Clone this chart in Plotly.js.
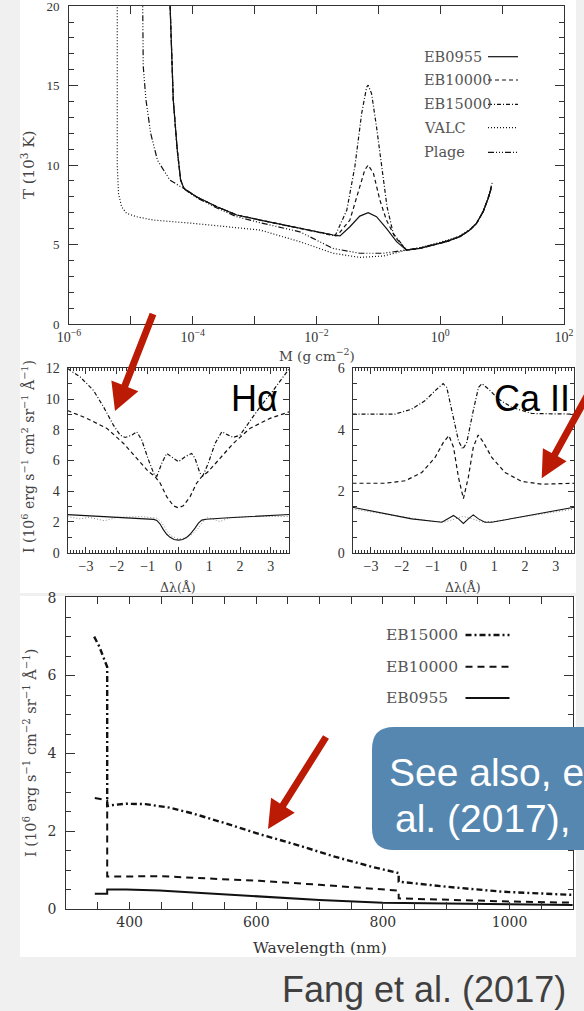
<!DOCTYPE html>
<html><head><meta charset="utf-8">
<script src="https://cdn.plot.ly/plotly-3.0.1.min.js"></script>
<style>html,body{margin:0;padding:0;background:#f0f0f0;}#chart{width:584px;height:1011px;}</style>
</head><body><div id="chart"></div>
<script>
// ---------- Top panel: log10 column mass M (g cm^-2) vs T (10^3 K) ----------
const top_eb0955_logM = [-4.37,-4.315,-4.25,-4.196,-4.142,-3.94,-3.61,-3.29,-2.91,-2.27,-1.73,-1.62,-1.46,-1.30,-1.165,-1.03,-0.87,-0.706,-0.545,-0.33,-0.115,0.10,0.317,0.478,0.586,0.693,0.774,0.829];
const top_eb0955_T    = [20.5,14.1,10.94,9.06,8.53,8.0,7.38,6.86,6.54,6.02,5.6,5.54,6.12,6.79,7.0,6.75,6.02,5.18,4.65,4.76,4.97,5.18,5.49,5.91,6.33,7.07,7.9,8.64];
const top_eb10000_logM = [-4.37,-4.315,-4.25,-4.196,-4.142,-3.94,-3.61,-3.29,-2.91,-2.27,-1.73,-1.67,-1.46,-1.326,-1.22,-1.165,-1.08,-0.976,-0.87,-0.733,-0.545,-0.33,-0.115,0.10,0.317,0.478,0.586,0.693,0.774,0.829];
const top_eb10000_T    = [20.5,14.1,10.94,9.06,8.53,8.0,7.38,6.86,6.54,6.02,5.6,5.55,6.54,8.22,9.69,10.0,9.48,7.8,6.54,5.49,4.65,4.76,4.97,5.18,5.49,5.91,6.33,7.07,7.9,8.6];
const top_eb15000_logM = [-4.37,-4.315,-4.25,-4.196,-4.142,-3.94,-3.61,-3.29,-2.91,-2.27,-1.73,-1.70,-1.51,-1.38,-1.27,-1.19,-1.165,-1.11,-1.03,-0.95,-0.86,-0.76,-0.545,-0.33,-0.115,0.10,0.317,0.478,0.586,0.693,0.774,0.84];
const top_eb15000_T    = [20.5,14.1,10.94,9.06,8.53,8.0,7.38,6.86,6.54,6.02,5.6,5.54,7.17,9.9,13.25,14.9,15.03,14.5,12.4,9.9,7.38,5.7,4.65,4.76,4.97,5.18,5.49,5.91,6.33,7.07,7.95,8.9];
const top_valc_logM = [-5.22,-5.22,-5.20,-5.15,-5.07,-4.91,-4.64,-3.99,-2.91,-2.27,-1.73,-1.30,-0.92,-0.545,-0.33,-0.115,0.10,0.317,0.478,0.586,0.693,0.774,0.829];
const top_valc_T    = [20.5,10,8.2,7.38,6.96,6.75,6.54,6.33,5.91,5.18,4.45,4.19,4.28,4.65,4.80,5.02,5.25,5.55,5.95,6.35,7.07,7.9,8.64];
const top_plage_logM = [-4.81,-4.80,-4.756,-4.68,-4.57,-4.37,-4.15,-3.94,-3.61,-3.29,-2.91,-2.27,-1.73,-1.30,-0.92,-0.545,-0.33,-0.115,0.10,0.317,0.478,0.586,0.693,0.774,0.829];
const top_plage_T    = [20.5,16.2,14.1,12.0,10.3,9.06,8.53,7.95,7.3,6.75,6.37,5.8,4.75,4.45,4.45,4.65,4.78,5.0,5.22,5.52,5.93,6.33,7.07,7.9,8.6];
const top_xticks = [-6,-4,-2,0,2];
const top_xticktext = ['10<sup>−6</sup>','10<sup>−4</sup>','10<sup>−2</sup>','10<sup>0</sup>','10<sup>2</sup>'];
const top_legend = ['EB0955','EB10000','EB15000','VALC','Plage'];

// ---------- H-alpha profiles: Δλ (Å) vs I ----------
const ha_eb15000_x = [-3.6,-3.19,-2.76,-2.43,-2.11,-1.89,-1.73,-1.51,-1.35,-1.19,-0.97,-0.78,-0.70,-0.54,-0.38,-0.16,0,0.22,0.43,0.54,0.70,0.79,0.97,1.19,1.41,1.62,1.78,2.0,2.32,2.65,3.08,3.6];
const ha_eb15000_y = [11.98,11.44,10.57,9.49,8.30,7.65,7.50,7.65,7.87,7.33,6.03,5.06,4.97,5.82,6.46,6.14,5.92,6.25,6.46,6.14,5.17,4.99,5.82,7.11,7.87,7.65,7.50,7.65,8.52,9.49,10.57,11.98];
const ha_eb10000_x = [-3.6,-2.97,-2.32,-1.78,-1.35,-0.97,-0.76,-0.59,-0.38,-0.16,0,0.16,0.38,0.59,0.76,0.97,1.35,1.78,2.32,2.97,3.6];
const ha_eb10000_y = [9.25,8.74,8.09,7.11,6.14,5.28,4.95,4.52,3.65,3.05,2.92,3.05,3.65,4.52,4.95,5.28,6.14,7.11,8.09,8.74,9.17];
const ha_eb0955_x = [-3.6,-2.5,-1.5,-0.8,-0.7,-0.6,-0.49,-0.38,-0.27,-0.14,0,0.14,0.27,0.38,0.54,0.65,0.76,0.9,1.5,2.5,3.6];
const ha_eb0955_y = [2.48,2.36,2.25,2.17,2.1,1.88,1.5,1.2,1.0,0.86,0.82,0.86,1.0,1.2,1.6,1.92,2.12,2.18,2.26,2.37,2.49];
const ha_valc_x = [-3.6,-3.2,-2.9,-2.4,-2.0,-1.2,-0.7,-0.55,-0.4,-0.25,0,0.25,0.45,0.65,0.8,0.95,1.1,1.35,1.7,2.5,3.6];
const ha_valc_y = [2.36,2.2,2.3,2.08,2.3,2.35,2.25,2.0,1.5,1.1,0.9,0.95,1.2,1.6,2.03,2.3,2.2,2.03,2.3,2.35,2.36];

// ---------- Ca II profiles ----------
const ca_eb15000_x = [-3.6,-2.22,-1.68,-1.24,-0.92,-0.66,-0.54,-0.38,-0.16,-0.02,0.11,0.32,0.49,0.60,0.81,1.14,1.57,2.22,3.6];
const ca_eb15000_y = [4.51,4.51,4.67,4.95,5.27,5.50,5.38,4.62,3.64,3.37,3.59,4.62,5.38,5.50,5.33,5.0,4.73,4.53,4.51];
const ca_eb10000_x = [-3.6,-2.54,-1.89,-1.35,-0.92,-0.65,-0.47,-0.32,-0.16,0,0.16,0.32,0.48,0.65,0.92,1.35,1.89,2.54,3.6];
const ca_eb10000_y = [2.26,2.26,2.34,2.61,3.10,3.59,3.81,3.43,2.45,1.76,2.45,3.43,3.83,3.59,3.10,2.61,2.32,2.23,2.26];
const ca_eb0955_x = [-3.6,-2.76,-1.68,-0.70,-0.49,-0.32,-0.16,0,0.16,0.32,0.49,0.70,0.92,1.78,2.65,3.6];
const ca_eb0955_y = [1.48,1.31,1.10,0.99,1.10,1.21,1.10,0.95,1.10,1.23,1.10,0.99,0.99,1.15,1.31,1.48];
const ca_valc_x = [-3.6,-2,-1,-0.6,-0.3,0,0.3,0.6,1,2,3.6];
const ca_valc_y = [1.42,1.18,1.02,1.0,1.1,1.18,1.1,1.0,1.02,1.18,1.42];

// ---------- Bottom: continuum, wavelength (nm) vs I ----------
const bot_eb15000_wl = [344,352,358,364.6,364.6,375,395,425,463,500,553,605,665,724,783,825,825,900,990,1100];
const bot_eb15000_I  = [7.0,6.75,6.5,6.22,2.65,2.68,2.71,2.70,2.61,2.46,2.20,1.93,1.65,1.35,1.09,0.93,0.71,0.58,0.45,0.37];
const bot_eb10000_wl = [345,364.6,364.6,375,450,526,605,700,783,825,825,900,1000,1100];
const bot_eb10000_I  = [2.86,2.80,0.84,0.84,0.85,0.79,0.73,0.63,0.54,0.48,0.28,0.24,0.20,0.17];
const bot_eb0955_wl = [345,364.6,364.6,395,447,500,553,605,700,800,900,1000,1100];
const bot_eb0955_I  = [0.40,0.40,0.51,0.51,0.48,0.43,0.37,0.32,0.24,0.17,0.15,0.13,0.11];
const bot_legend = ['EB15000','EB10000','EB0955'];

// ---------- layout helpers (pixel -> paper) ----------
const W=584,H=1011;
const X=v=>v/W, Y=v=>1-v/H;
const SERIF='Liberation Serif, Times New Roman, serif';
const WSERIF='DejaVu Serif, serif';
const SANS='Liberation Sans, Arial, Helvetica, sans-serif';
const DASH='4px,3px', DASHDOT='4px,2px,1px,2px', DOT='1px,2px', DASH3='6px,2px,1px,2px,1px,2px,1px,2px';

function axis(o){
  return Object.assign({showline:true,linecolor:'#333',linewidth:1,mirror:'ticks',ticks:'inside',
    tickcolor:'#333',tickwidth:1,showgrid:false,zeroline:false,fixedrange:true,ticklabeloverflow:'allow',
    tickfont:{family:SERIF,size:13,color:'#333'}},o);
}
function ln(x,y,xa,ya,dash,w,c){
  return {x:x,y:y,xaxis:xa,yaxis:ya,type:'scatter',mode:'lines',hoverinfo:'skip',showlegend:false,
    line:{color:c||'#111',width:w||1.2,dash:dash||'solid'}};
}
function ann(text,x,y,o){
  return Object.assign({text:text,x:X(x),y:Y(y),xref:'paper',yref:'paper',showarrow:false,
    xanchor:'center',yanchor:'middle',font:{family:WSERIF,size:13,color:'#444'}},o||{});
}
function arrowPath(x0,y0,x1,y1,sw,hl,hw){
  const dx=x1-x0,dy=y1-y0,L=Math.hypot(dx,dy),ux=dx/L,uy=dy/L,nx=-uy,ny=ux;
  const bx=x1-ux*hl,by=y1-uy*hl;
  const p=[[x0+nx*sw/2,y0+ny*sw/2],[bx+nx*sw/2,by+ny*sw/2],[bx+nx*hw/2,by+ny*hw/2],[x1,y1],
           [bx-nx*hw/2,by-ny*hw/2],[bx-nx*sw/2,by-ny*sw/2],[x0-nx*sw/2,y0-ny*sw/2]];
  return 'M'+p.map(q=>X(q[0])+','+Y(q[1])).join(' L')+' Z';
}
function roundRect(x0,y0,x1,y1,r){
  const P=(a,b)=>X(a)+','+Y(b);
  return 'M'+P(x0+r,y0)+' L'+P(x1-r,y0)+' Q'+P(x1,y0)+' '+P(x1,y0+r)+' L'+P(x1,y1-r)+' Q'+P(x1,y1)+' '+P(x1-r,y1)+
    ' L'+P(x0+r,y1)+' Q'+P(x0,y1)+' '+P(x0,y1-r)+' L'+P(x0,y0+r)+' Q'+P(x0,y0)+' '+P(x0+r,y0)+' Z';
}
function rect(x0,y0,x1,y1,color,layer){
  return {type:'rect',xref:'paper',yref:'paper',x0:X(x0),x1:X(x1),y0:Y(y0),y1:Y(y1),fillcolor:color,line:{width:0},layer:layer||'below'};
}
function seg(x0,x1,y,dash,w){
  return {type:'line',xref:'paper',yref:'paper',x0:X(x0),x1:X(x1),y0:Y(y),y1:Y(y),line:{color:'#111',width:w||1.2,dash:dash}};
}

const traces=[
  ln(top_valc_logM,top_valc_T,'x','y',DOT,1.2),
  ln(top_plage_logM,top_plage_T,'x','y',DASH3,1.2),
  ln(top_eb15000_logM,top_eb15000_T,'x','y',DASHDOT,1.2),
  ln(top_eb10000_logM,top_eb10000_T,'x','y',DASH,1.2),
  ln(top_eb0955_logM,top_eb0955_T,'x','y','solid',1.2),

  ln(ha_valc_x,ha_valc_y,'x2','y2',DOT,1,'#888'),
  ln(ha_eb15000_x,ha_eb15000_y,'x2','y2',DASHDOT,1.2),
  ln(ha_eb10000_x,ha_eb10000_y,'x2','y2',DASH,1.2),
  ln(ha_eb0955_x,ha_eb0955_y,'x2','y2','solid',1.1),

  ln(ca_valc_x,ca_valc_y,'x3','y3',DOT,1,'#888'),
  ln(ca_eb15000_x,ca_eb15000_y,'x3','y3',DASHDOT,1.2),
  ln(ca_eb10000_x,ca_eb10000_y,'x3','y3',DASH,1.2),
  ln(ca_eb0955_x,ca_eb0955_y,'x3','y3','solid',1.1),

  ln(bot_eb15000_wl,bot_eb15000_I,'x4','y4','6px,3px,2px,3px',2.4),
  ln(bot_eb10000_wl,bot_eb10000_I,'x4','y4','7px,5px',2),
  ln(bot_eb0955_wl,bot_eb0955_I,'x4','y4','solid',2)
];

const midY=[Y(552.7),Y(368)];
const minor=(d,l)=>({dtick:d,ticklen:l,ticks:'inside',tickcolor:'#333'});
const layout={
  width:W,height:H,margin:{l:0,r:0,t:0,b:0,pad:0},
  paper_bgcolor:'#f0f0f0',plot_bgcolor:'#ffffff',showlegend:false,
  xaxis:axis({domain:[X(69),X(564)],anchor:'y',range:[-6,2],tickmode:'array',tickvals:top_xticks,ticktext:top_xticktext,ticklen:8,
    minor:minor(1,8),tickfont:{family:SERIF,size:14,color:'#333'}}),
  yaxis:axis({domain:[Y(324),Y(5.8)],anchor:'x',range:[0,20.02],tickmode:'array',tickvals:[0,5,10,15,20],ticklen:9,ticklabelstandoff:6,
    minor:minor(1,5)}),
  xaxis2:axis({domain:[X(67.5),X(289.3)],anchor:'y2',range:[-3.6,3.6],dtick:1,ticklen:6,minor:minor(0.1,3),
    tickfont:{family:SERIF,size:14,color:'#333'}}),
  yaxis2:axis({domain:midY,anchor:'x2',range:[0,12.02],tickmode:'array',tickvals:[0,2,4,6,8,10,12],ticklen:6,ticklabelstandoff:4,minor:minor(1,4),
    tickfont:{family:SERIF,size:14,color:'#333'}}),
  xaxis3:axis({domain:[X(352.5),X(574.3)],anchor:'y3',range:[-3.6,3.6],dtick:1,ticklen:6,minor:minor(0.1,3),
    tickfont:{family:SERIF,size:14,color:'#333'}}),
  yaxis3:axis({domain:midY,anchor:'x3',range:[0,6.01],tickmode:'array',tickvals:[0,2,4,6],ticklen:6,ticklabelstandoff:4,minor:minor(0.5,4),
    tickfont:{family:SERIF,size:14,color:'#333'}}),
  xaxis4:axis({domain:[X(66.3),X(572.8)],anchor:'y4',range:[300,1100],dtick:200,tick0:0,ticklen:7,minor:minor(50,7),
    tickfont:{family:WSERIF,size:14,color:'#333'}}),
  yaxis4:axis({domain:[Y(909.3),Y(597.3)],anchor:'x4',range:[0,8.01],tickmode:'array',tickvals:[0,2,4,6,8],ticklen:9,ticklabelstandoff:6,minor:minor(0.5,5),
    tickfont:{family:WSERIF,size:14,color:'#333'}}),
  shapes:[
    rect(20,0,576,593,'#ffffff'),
    rect(20,596,576,957,'#ffffff'),
    seg(488,518,56.7,'solid'),
    seg(488,518,80,DASH),
    seg(488,518,104.3,DASHDOT),
    seg(488,518,127.7,DOT),
    seg(488,518,152.3,DASH3),
    seg(465.5,509.5,635,'6px,3px,2px,3px',2.4),
    seg(465.5,509.5,666.7,'7px,5px',2),
    seg(465.5,509.5,698,'solid',2),
    {type:'path',xref:'paper',yref:'paper',path:roundRect(372,727,640,850,22),fillcolor:'#5687b0',line:{width:0},layer:'above'},
    {type:'path',xref:'paper',yref:'paper',path:arrowPath(153,314,115,411,7,27,29),fillcolor:'#bb1a04',line:{width:0},layer:'above'},
    {type:'path',xref:'paper',yref:'paper',path:arrowPath(609,356,541.7,478.3,7,27,27),fillcolor:'#bb1a04',line:{width:0},layer:'above'},
    {type:'path',xref:'paper',yref:'paper',path:arrowPath(326,737,268,829,7,28,28),fillcolor:'#bb1a04',line:{width:0},layer:'above'}
  ],
  annotations:[
    ann('T (10<sup>3</sup> K)',28,165,{textangle:-90,font:{family:WSERIF,size:15,color:'#444'}}),
    ann('M (g cm<sup>−2</sup>)',317,355,{font:{family:WSERIF,size:13.5,color:'#444'}}),
    ann('I (10<sup>6</sup> erg s<sup>−1</sup> cm<sup>2</sup> sr<sup>−1</sup> Å<sup>−1</sup>)',28,457,{textangle:-90,font:{family:WSERIF,size:14,color:'#444'}}),
    ann('Δλ(Å)',178.3,587,{font:{family:WSERIF,size:12.5,color:'#444'}}),
    ann('Δλ(Å)',463.3,587,{font:{family:WSERIF,size:12.5,color:'#444'}}),
    ann('I (10<sup>6</sup> erg s<sup>−1</sup> cm<sup>−2</sup> sr<sup>−1</sup> Å<sup>−1</sup>)',30,753,{textangle:-90,font:{family:WSERIF,size:14.5,color:'#444'}}),
    ann('Wavelength (nm)',320,948,{font:{family:WSERIF,size:15.5,color:'#333'}}),
    ann(top_legend[0],422,56.7,{xanchor:'left',font:{family:WSERIF,size:14.5,color:'#555'}}),
    ann(top_legend[1],422,80,{xanchor:'left',font:{family:WSERIF,size:14.5,color:'#555'}}),
    ann(top_legend[2],422,104.3,{xanchor:'left',font:{family:WSERIF,size:14.5,color:'#555'}}),
    ann(top_legend[3],422,127.7,{xanchor:'left',font:{family:WSERIF,size:14.5,color:'#555'}}),
    ann(top_legend[4],422,152.3,{xanchor:'left',font:{family:WSERIF,size:14.5,color:'#555'}}),
    ann(bot_legend[0],383.6,635,{xanchor:'left',font:{family:WSERIF,size:15.5,color:'#555'}}),
    ann(bot_legend[1],383.6,666.7,{xanchor:'left',font:{family:WSERIF,size:15.5,color:'#555'}}),
    ann(bot_legend[2],383.6,698,{xanchor:'left',font:{family:WSERIF,size:15.5,color:'#555'}}),
    ann('Hα',254,399,{font:{family:SANS,size:36,color:'#000'}}),
    ann('Ca II',531.5,399,{font:{family:SANS,size:36,color:'#000'}}),
    ann('See also, e',387,772,{xanchor:'left',font:{family:SANS,size:39,color:'#ffffff'}}),
    ann('al. (2017), ',393,818,{xanchor:'left',font:{family:SANS,size:39,color:'#ffffff'}}),
    ann('Fang et al. (2017)',568,989,{xanchor:'right',font:{family:SANS,size:36,color:'#404040'}})
  ]
};
Plotly.newPlot('chart',traces,layout,{displayModeBar:false,staticPlot:true});
</script></body></html>
